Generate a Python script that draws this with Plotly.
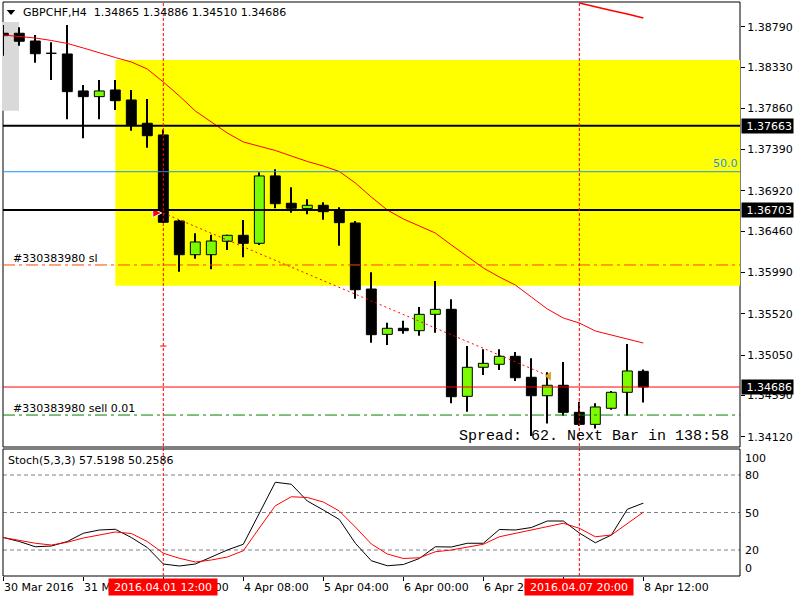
import plotly.graph_objects as go

# ---------------- data ----------------
bar_index = list(range(41))
open_ = [1.38715, 1.38715, 1.38627, 1.38488, 1.38479, 1.38058, 1.37993, 1.38069, 1.37955, 1.37690,
         1.37557, 1.36577, 1.36193, 1.36193, 1.36346, 1.36414, 1.36323, 1.37090, 1.36779, 1.36718,
         1.36756, 1.36691, 1.36554, 1.35802, 1.35286, 1.35355, 1.35328, 1.35514, 1.35571, 1.34580,
         1.34911, 1.34945, 1.35036, 1.34797, 1.34587, 1.34706, 1.34398, 1.34261, 1.34444, 1.34626,
         1.34865]
high = [1.38809, 1.38783, 1.38695, 1.38612, 1.38809, 1.38126, 1.38183, 1.38183, 1.38069, 1.37967,
        1.37620, 1.36588, 1.36437, 1.36420, 1.36420, 1.36588, 1.37132, 1.37166, 1.36961, 1.36824,
        1.36790, 1.36733, 1.36577, 1.35992, 1.35417, 1.35441, 1.35597, 1.35894, 1.35685, 1.35153,
        1.35115, 1.35115, 1.35085, 1.35013, 1.34854, 1.34971, 1.34519, 1.34500, 1.34641, 1.35176,
        1.34886]
low = [1.38460, 1.38574, 1.38380, 1.38183, 1.37735, 1.37519, 1.37735, 1.37841, 1.37605, 1.37412,
       1.36555, 1.35999, 1.36148, 1.36027, 1.36246, 1.36164, 1.36304, 1.36722, 1.36672, 1.36654,
       1.36592, 1.36296, 1.35692, 1.35191, 1.35165, 1.35294, 1.35271, 1.35305, 1.34500, 1.34405,
       1.34823, 1.34880, 1.34755, 1.34128, 1.34272, 1.34359, 1.34242, 1.34215, 1.34428, 1.34359,
       1.34510]
close = [1.38688, 1.38624, 1.38482, 1.38486, 1.38050, 1.37993, 1.38058, 1.37947, 1.37670, 1.37548,
         1.36562, 1.36193, 1.36338, 1.36349, 1.36414, 1.36323, 1.37090, 1.36774, 1.36722, 1.36756,
         1.36683, 1.36558, 1.35794, 1.35282, 1.35355, 1.35328, 1.35514, 1.35571, 1.34576, 1.34911,
         1.34956, 1.35036, 1.34792, 1.34587, 1.34706, 1.34398, 1.34261, 1.34459, 1.34626, 1.34869,
         1.34686]
ma_slow = [1.38695, 1.38678, 1.38661, 1.38633, 1.38599, 1.38547, 1.38490, 1.38439, 1.38388, 1.38308,
           1.38160, 1.38001, 1.37830, 1.37705, 1.37579, 1.37477, 1.37431, 1.37380, 1.37317, 1.37255,
           1.37203, 1.37141, 1.37010, 1.36850, 1.36702, 1.36600, 1.36520, 1.36440, 1.36304, 1.36178,
           1.36042, 1.35939, 1.35848, 1.35711, 1.35575, 1.35472, 1.35415, 1.35324, 1.35279, 1.35239,
           1.35187]
ma_fast_bars = [36, 37, 38, 39, 40]
ma_fast = [1.39060, 1.39014, 1.38975, 1.38935, 1.38889]
stoch_k = [30, 26.8, 22.6, 23.2, 26.8, 33.4, 36, 36.6, 30, 22,
           8.8, 7.2, 8.8, 14.4, 20, 24.6, 49.6, 74.2, 72.6, 59.2,
           52, 44.4, 25.4, 11.4, 7.4, 8.4, 13.2, 22.6, 22.4, 25.4,
           25.4, 36.4, 36, 38, 43.2, 43.2, 33.6, 25.8, 32, 52.6,
           57.52]
stoch_d = [30, 27.6, 25.4, 24, 26.2, 29.6, 32, 34.4, 33.2, 26.8,
           17.4, 13.4, 10.4, 12, 14.4, 19.4, 37.6, 55.4, 62.6, 62,
           58.4, 51.2, 38.4, 24.8, 16.8, 13.2, 13.8, 18.6, 20, 22.6,
           24.6, 30.6, 33.4, 36, 38.4, 41.4, 37.4, 30.6, 32, 41.4,
           50.26]
price_ticks = [1.38790, 1.38330, 1.37860, 1.37390, 1.36920, 1.36460, 1.35990,
               1.35520, 1.35050, 1.34590, 1.34120]
stoch_levels = [20, 50, 80]
stoch_tick_labels = ["100", "80", "50", "20", "0"]
time_tick_bars = [0, 5, 10, 15, 20, 25, 30, 35, 40]
time_tick_labels = ["30 Mar 2016", "31 Mar 16:00", "1 Apr 12:00", "4 Apr 08:00", "5 Apr 04:00",
                    "6 Apr 00:00", "6 Apr 20:00", "7 Apr 16:00", "8 Apr 12:00"]
level_upper = 1.37663
level_lower = 1.36703
fib_50 = 1.37138
stop_loss = 1.36076
sell_price = 1.34367
bid = 1.34686
zone_top, zone_bottom, zone_start = 1.38411, 1.35840, 7
gray_top, gray_bottom = 1.38844, 1.37833
trade_bars = [10, 34.1]
trade_prices = [1.36668, 1.34811]
crosshair_bars = [10, 36]
crosshair_labels = ["2016.04.01 12:00", "2016.04.07 20:00"]
mark_price = 1.35153

# ---------------- geometry ----------------
W, H = 800, 600
ML, MR, MT, MB = 3, 60, 2, 24
PX0, PX1, PY0, PY1 = ML, W - MR, MT, H - MB


def pxx(px):
    return (px - PX0) / (PX1 - PX0)


def pxy(py):
    return (PY1 - py) / (PY1 - PY0)


main_dom = [pxy(447), 1.0]
stoch_dom = [0.0, pxy(449)]
x_range = [-0.019, 46.04]
y_range = [1.34003, 1.39071]
s_range = [-0.8, 100.8]

FONT = "DejaVu Sans"
FS = 11
GREEN = "#7CFC00"

fig = go.Figure()

# wicks
fig.add_trace(go.Bar(x=bar_index, y=[h - l for h, l in zip(high, low)], base=low,
                     width=0.07, marker=dict(color="black", line=dict(width=0)),
                     xaxis="x", yaxis="y", hoverinfo="skip"))
# bodies
body_h = [max(abs(c - o), 0.00002) for o, c in zip(open_, close)]
body_b = [min(o, c) for o, c in zip(open_, close)]
body_c = [GREEN if c > o else "black" for o, c in zip(open_, close)]
fig.add_trace(go.Bar(x=bar_index, y=body_h, base=body_b, width=0.62,
                     marker=dict(color=body_c, line=dict(color="black", width=1)),
                     xaxis="x", yaxis="y", hoverinfo="skip"))
# moving averages
fig.add_trace(go.Scatter(x=bar_index, y=ma_slow, mode="lines",
                         line=dict(color="red", width=1), xaxis="x", yaxis="y"))
fig.add_trace(go.Scatter(x=ma_fast_bars, y=ma_fast, mode="lines",
                         line=dict(color="red", width=1.6), xaxis="x", yaxis="y"))
# trade line
fig.add_trace(go.Scatter(x=trade_bars, y=trade_prices, mode="lines",
                         line=dict(color="red", width=1, dash="2px,3px"), xaxis="x", yaxis="y"))
fig.add_trace(go.Scatter(x=[trade_bars[0] - 0.1], y=[trade_prices[0]], mode="markers",
                         marker=dict(symbol="arrow-right", size=9, color="red",
                                     line=dict(color="white", width=1)), xaxis="x", yaxis="y"))
fig.add_trace(go.Scatter(x=[trade_bars[1]], y=[trade_prices[1]], mode="markers",
                         marker=dict(symbol="triangle-left", size=8, color="#DAA520"),
                         xaxis="x", yaxis="y"))
# stochastic
fig.add_trace(go.Scatter(x=bar_index, y=stoch_k, mode="lines",
                         line=dict(color="black", width=1), xaxis="x", yaxis="y2"))
fig.add_trace(go.Scatter(x=bar_index, y=stoch_d, mode="lines",
                         line=dict(color="red", width=1), xaxis="x", yaxis="y2"))

shapes = []
# yellow zone
shapes.append(dict(type="rect", xref="x", yref="y", x0=zone_start, x1=x_range[1],
                   y0=zone_bottom, y1=zone_top, fillcolor="#FFFF00", line=dict(width=0),
                   layer="below"))
# stoch grid lines
for lv in stoch_levels:
    shapes.append(dict(type="line", xref="paper", yref="y2", x0=0, x1=1, y0=lv, y1=lv,
                       line=dict(color="#808080", width=1, dash="4px,3px"), layer="below"))
# panel frames
shapes.append(dict(type="rect", xref="paper", yref="paper", x0=0, x1=1,
                   y0=main_dom[0], y1=main_dom[1], line=dict(color="black", width=1),
                   layer="below"))
shapes.append(dict(type="rect", xref="paper", yref="paper", x0=0, x1=1,
                   y0=stoch_dom[0], y1=stoch_dom[1], line=dict(color="black", width=1),
                   layer="below"))
# gray box at left
shapes.append(dict(type="rect", xref="paper", yref="y", x0=pxx(2), x1=pxx(19),
                   y0=gray_bottom, y1=gray_top, fillcolor="#D9D9D9", line=dict(width=0),
                   layer="below"))
# horizontal levels
for lv in (level_upper, level_lower):
    shapes.append(dict(type="line", xref="paper", yref="y", x0=0, x1=1, y0=lv, y1=lv,
                       line=dict(color="black", width=2)))
shapes.append(dict(type="line", xref="paper", yref="y", x0=0, x1=1, y0=fib_50, y1=fib_50,
                   line=dict(color="#1E90FF", width=1)))
shapes.append(dict(type="line", xref="paper", yref="y", x0=0, x1=1, y0=stop_loss, y1=stop_loss,
                   line=dict(color="#FF4500", width=1, dash="12px,4px,3px,4px")))
shapes.append(dict(type="line", xref="paper", yref="y", x0=0, x1=1, y0=sell_price, y1=sell_price,
                   line=dict(color="#008000", width=1, dash="12px,4px,3px,4px")))
shapes.append(dict(type="line", xref="paper", yref="y", x0=0, x1=1, y0=bid, y1=bid,
                   line=dict(color="red", width=1)))
# crosshair verticals
for b in crosshair_bars:
    shapes.append(dict(type="line", xref="x", yref="paper", x0=b, x1=b, y0=0, y1=1,
                       line=dict(color="red", width=1, dash="3px,2px")))
shapes.append(dict(type="line", xref="x", yref="y", x0=crosshair_bars[0] - 0.2,
                   x1=crosshair_bars[0] + 0.2, y0=mark_price, y1=mark_price,
                   line=dict(color="red", width=1)))
# title dropdown triangle
shapes.append(dict(type="path", xref="paper", yref="paper",
                   path=f"M {pxx(6.7)} {pxy(10)} L {pxx(15.3)} {pxy(10)} L {pxx(11)} {pxy(15)} Z",
                   fillcolor="black", line=dict(width=0)))

ann = []


def text(x, y, s, xanchor="left", color="black", size=FS, family=FONT, **kw):
    d = dict(x=x, y=y, text=s, showarrow=False, xanchor=xanchor, yanchor="middle",
             font=dict(family=family, size=size, color=color))
    d.setdefault("xref", "paper")
    d.setdefault("yref", "paper")
    d.update(kw)
    ann.append(d)


text(pxx(21), pxy(12.5), "GBPCHF,H4\u00a0\u00a0" + "\u00a0".join(
    f"{v:.5f}" for v in (open_[-1], high[-1], low[-1], close[-1])))
text(pxx(6), pxy(460.7), "Stoch(5,3,3) 57.5198 50.2586")
text(pxx(11), pxy(258.3), "#330383980 sl")
text(pxx(11), pxy(408.3), "#330383980 sell 0.01")
text(pxx(739.5), fib_50, "50.0", xanchor="right", color="#1E90FF", yref="y", yshift=8)
text(pxx(731), pxy(436.7), "Spread: 62. Next Bar in 138:58", xanchor="right",
     size=15, family="Liberation Mono")

# price axis boxes
for lv in (level_upper, level_lower, bid):
    ann.append(dict(x=1, xref="paper", y=lv, yref="y", text=f"{lv:.5f}", showarrow=False,
                    xanchor="left", yanchor="middle", xshift=1, width=49, height=12,
                    align="right", borderpad=1, bgcolor="black",
                    font=dict(family=FONT, size=FS, color="white")))

# stoch axis labels
for lab, py in zip(stoch_tick_labels, [458.3, 475, 513.3, 550, 568.3]):
    text(pxx(743), pxy(py), lab)

# time labels
for b, lab in zip(time_tick_bars, time_tick_labels):
    text(b, pxy(587), lab, xref="x", xshift=-1)
for b, lab in zip(crosshair_bars, crosshair_labels):
    ann.append(dict(x=b, xref="x", y=pxy(587), yref="paper", text=lab, showarrow=False,
                    xanchor="center", yanchor="middle", width=106, height=14, borderpad=1,
                    bgcolor="#FF0000", font=dict(family=FONT, size=FS, color="white")))

fig.update_layout(
    width=W, height=H, margin=dict(l=ML, r=MR, t=MT, b=MB, pad=0),
    paper_bgcolor="white", plot_bgcolor="white", showlegend=False,
    barmode="overlay", hovermode=False,
    shapes=shapes, annotations=ann,
    xaxis=dict(domain=[0, 1], range=x_range, anchor="y2", showgrid=False, zeroline=False,
               showticklabels=False, tickvals=time_tick_bars, ticks="outside", ticklen=4,
               tickcolor="black", showline=False, fixedrange=True),
    yaxis=dict(domain=main_dom, range=y_range, anchor="x", side="right", showgrid=False,
               zeroline=False, tickvals=price_ticks, ticktext=[f"{v:.5f}" for v in price_ticks],
               ticks="outside", ticklen=4, tickcolor="black", showline=False,
               tickfont=dict(family=FONT, size=FS, color="black"), fixedrange=True),
    yaxis2=dict(domain=stoch_dom, range=s_range, anchor="x", side="right", showgrid=False,
                zeroline=False, showticklabels=False, ticks="", showline=False, fixedrange=True),
)

fig.write_html("out.html", config={"displayModeBar": False})
